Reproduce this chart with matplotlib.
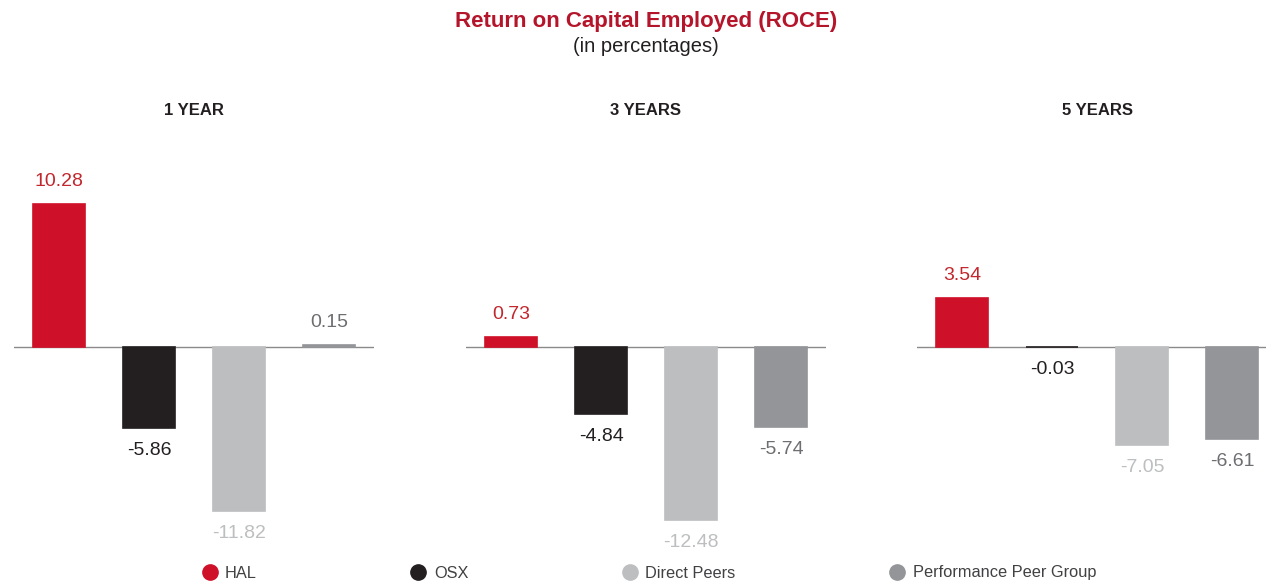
import matplotlib.pyplot as plt
from matplotlib.lines import Line2D

plt.rcParams['font.family'] = ['Liberation Sans', 'DejaVu Sans']

# データ
periods = ['1 YEAR', '3 YEARS', '5 YEARS']
groups = ['HAL', 'OSX', 'Direct Peers', 'Performance Peer Group']
hal = [10.28, 0.73, 3.54]
osx = [-5.86, -4.84, -0.03]
direct_peers = [-11.82, -12.48, -7.05]
perf_peers = [0.15, -5.74, -6.61]

bar_colors = ['#cf1029', '#231f20', '#bcbec0', '#939598']
label_colors = ['#c1272d', '#231f20', '#bcbec0', '#6d6e71']

fig = plt.figure(figsize=(12.66, 5.82), dpi=100)
W, H = 1266, 582

# パネルの位置（ピクセル）
lefts = [14, 466, 917]
ax_w = 360
base_px = 347
px_per_unit = 13.9
ymin, ymax = -14, 12
top_px = base_px - ymax * px_per_unit
bot_px = base_px - ymin * px_per_unit

for k, period in enumerate(periods):
    ax = fig.add_axes([lefts[k] / W, (H - bot_px) / H, ax_w / W, (bot_px - top_px) / H])
    vals = [hal[k], osx[k], direct_peers[k], perf_peers[k]]
    xs = range(len(vals))
    ax.bar(xs, vals, width=0.57, color=bar_colors, edgecolor=bar_colors,
           linewidth=1.2, zorder=2)
    ax.axhline(0, color='#8a8a8a', linewidth=1, zorder=1)
    for x, v, c in zip(xs, vals, label_colors):
        off = 16 if v >= 0 else -16
        ax.annotate(f'{v:.2f}', (x, v), xytext=(0, off), textcoords='offset points',
                    ha='center', va='center', fontsize=14, color=c)
    ax.set_xlim(-0.5, 3.5)
    ax.set_ylim(ymin, ymax)
    ax.set_title(period, fontsize=12, fontweight='bold', color='#231f20', pad=47)
    ax.axis('off')

fig.text(646 / W, 1 - 22 / H, 'Return on Capital Employed (ROCE)', ha='center', va='center',
         fontsize=16, fontweight='bold', color='#b5152b')
fig.text(646 / W, 1 - 46 / H, '(in percentages)', ha='center', va='center',
         fontsize=14.5, color='#231f20')

handles = [Line2D([], [], linestyle='none', marker='o', markersize=11,
                  markerfacecolor=c, markeredgecolor=c) for c in bar_colors]
fig.legend(handles, groups, loc='center left', bbox_to_anchor=(203 / W, 1 - 573 / H),
           ncol=4, frameon=False, fontsize=11.75, handlelength=0.8, handletextpad=0.55,
           columnspacing=9.5, labelcolor='#414042', borderaxespad=0, borderpad=0)

fig.savefig('out.png', dpi=100)
